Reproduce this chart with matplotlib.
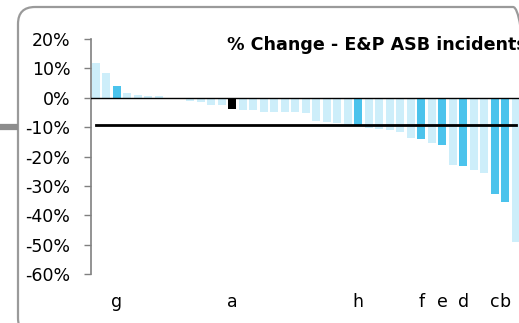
import matplotlib
matplotlib.use("Agg")
import matplotlib.pyplot as plt
from matplotlib.patches import FancyBboxPatch
from matplotlib.lines import Line2D
from matplotlib.transforms import IdentityTransform
import numpy as np

# % change per unit, sorted high to low
values = [11.7, 8.3, 4.1, 1.6, 0.85, 0.7, 0.5, 0.0, -0.5, -1.1,
          -1.6, -2.3, -2.6, -3.9, -4.2, -4.2, -4.8, -4.9, -5.0, -5.0,
          -5.3, -8.0, -8.4, -8.6, -8.8, -9.4, -10.3, -10.8, -11.1, -11.8,
          -13.8, -14.2, -15.3, -16.2, -22.9, -23.2, -24.5, -25.5, -32.9, -35.6,
          -49.2]
labels = ['', '', 'g', '', '', '', '', '', '', '',
          '', '', '', 'a', '', '', '', '', '', '',
          '', '', '', '', '', 'h', '', '', '', '',
          '', 'f', '', 'e', '', 'd', '', '', 'c', 'b',
          '']
average = -9.3
yticks = [20, 10, 0, -10, -20, -30, -40, -50, -60]

LIGHT = '#cdeefa'
DARK = '#4bc3ec'

plt.rcParams['font.family'] = ['DejaVu Sans']

W, H = 519, 323
fig = plt.figure(figsize=(W / 100, H / 100), dpi=100)

# rounded frame in pixel units (runs off the right and bottom edge)
frame = FancyBboxPatch((18, -12), 530 - 18, (H - 7) + 12,
                       boxstyle="round,pad=0,rounding_size=17",
                       transform=IdentityTransform(), facecolor='none',
                       edgecolor='#9a9a9a', linewidth=1.6, zorder=-1)
fig.patches.append(frame)
# grey connector coming in from the left
fig.lines.append(Line2D([0, 18 / W], [1 - 127 / H, 1 - 127 / H], transform=fig.transFigure,
                        color='#8c8c8c', linewidth=4.5, solid_capstyle='butt'))

ax = fig.add_axes([90.5 / W, 1 - 274 / H, 1 - 90.5 / W, (274 - 39) / H])
ax.set_facecolor('none')

x = np.arange(len(values))
colors = []
for lab in labels:
    if lab == 'a':
        colors.append('black')
    elif lab:
        colors.append(DARK)
    else:
        colors.append(LIGHT)
ax.bar(x, values, width=0.8, color=colors, edgecolor='none', zorder=2)

ax.axhline(0, color='black', linewidth=1.0, zorder=3)
ax.plot([x[0], x[-1]], [average, average], color='black', linewidth=2.0, zorder=4)

ax.set_xlim(-0.5, 40.31)
ax.set_ylim(-60, 20)
ax.set_yticks(yticks)
ax.set_yticklabels([f'{v}%' for v in yticks], fontsize=12.5)
ax.tick_params(axis='y', length=5, width=1, color='#808080', pad=9.5)

tick_idx = [i for i, lab in enumerate(labels) if lab]
ax.set_xticks(tick_idx)
ax.set_xticklabels([labels[i] for i in tick_idx], fontsize=12.5)
ax.tick_params(axis='x', length=0, pad=14)

for side in ['top', 'right', 'bottom']:
    ax.spines[side].set_visible(False)
ax.spines['left'].set_color('#808080')
ax.spines['left'].set_linewidth(1.2)

fig.text(227 / W, 1 - 44.5 / H, '% Change - E&P ASB incidents', fontsize=12.6,
         fontweight='bold', ha='left', va='center')

fig.savefig('out.png', dpi=100)
